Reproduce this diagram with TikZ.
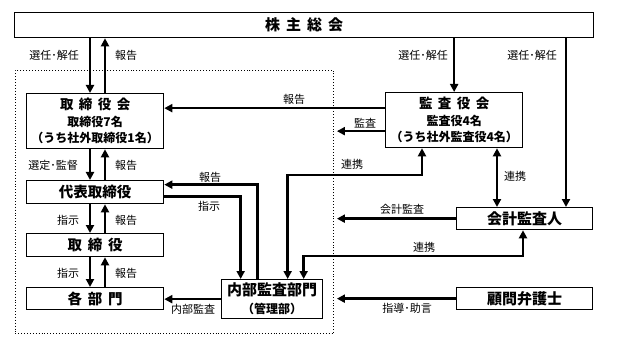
\documentclass[tikz,border=0pt]{standalone}
\usepackage{fontspec}
\newfontfamily\cjk{Noto Sans CJK JP}
\usetikzlibrary{arrows.meta}
\newcommand{\jsp}{\hspace{0.4em}}
\tikzset{
    box/.style={draw, line width=1.3pt, anchor=north west, inner sep=0pt, align=center, font=\cjk\bfseries},
    link/.style={line width=2.4pt, -{Triangle[length=8pt,width=8pt]}},
    both/.style={line width=2.4pt, {Triangle[length=8pt,width=8pt]}-{Triangle[length=8pt,width=8pt]}},
    lbl/.style={inner sep=0pt, font=\cjk\fontsize{11}{13}\selectfont},
}

\begin{document}
\begin{tikzpicture}[x=1pt, y=-1pt]
    \useasboundingbox (0,0) rectangle (617,347);
    % --- frame of the company ---
    \node[draw, dotted, line width=0.9pt, anchor=north west, inner sep=0pt,
        minimum width=318pt, minimum height=263pt] (frame) at (15,70) {};
    % --- boxes ---
    \node[box, minimum width=579pt, minimum height=25pt, font=\cjk\bfseries\fontsize{15}{17}\selectfont]
        (kabu) at (14,12) {株\jsp 主\jsp 総\jsp 会};
    \node[box, minimum width=137pt, minimum height=55pt, font=\cjk\bfseries\fontsize{12}{16.5}\selectfont]
        (torikai) at (26,93) {{\fontsize{13.5}{16.5}\selectfont 取\jsp 締\jsp 役\jsp 会}\\取締役7名\\（うち社外取締役1名）};
    \node[box, minimum width=137pt, minimum height=23pt, font=\cjk\bfseries\fontsize{14.5}{17}\selectfont]
        (daihyo) at (26,180) {代表取締役};
    \node[box, minimum width=137pt, minimum height=23pt, font=\cjk\bfseries\fontsize{14.5}{17}\selectfont]
        (torishimari) at (26,233) {取\jsp 締\jsp 役};
    \node[box, minimum width=137pt, minimum height=22pt, font=\cjk\bfseries\fontsize{14.5}{17}\selectfont]
        (kakubu) at (26,287) {各\jsp 部\jsp 門};
    \node[box, minimum width=101pt, minimum height=39pt, font=\cjk\bfseries\fontsize{15}{18}\selectfont]
        (naibu) at (221,279) {内部監査部門\\{\fontsize{12}{14}\selectfont （管理部）}};
    \node[box, minimum width=137pt, minimum height=55pt, font=\cjk\bfseries\fontsize{12}{16.5}\selectfont]
        (kansayaku) at (385,92) {{\fontsize{13.5}{16.5}\selectfont 監\jsp 査\jsp 役\jsp 会}\\監査役4名\\（うち社外監査役4名）};
    \node[box, minimum width=136pt, minimum height=22pt, font=\cjk\bfseries\fontsize{15}{17}\selectfont]
        (kaikei) at (456,207) {会計監査人};
    \node[box, minimum width=136pt, minimum height=22pt, font=\cjk\bfseries\fontsize{15}{17}\selectfont]
        (komon) at (456,287) {顧問弁護士};
    % --- routing points ---
    \coordinate (dn) at (90,0);
    \coordinate (up) at (105,0);
    \coordinate (kk) at (566,0);
    \coordinate (mid) at (497,0);
    \coordinate (j1) at (422,175);
    \coordinate (j2) at (523,256);
    \coordinate (rep) at ([yshift=12pt]kansayaku.west);
    \coordinate (kan) at ([yshift=-11pt]kansayaku.west);
    % --- vertical chain on the left ---
    \draw[link] (kabu.south -| dn) -- (torikai.north -| dn);
    \draw[link] (torikai.north -| up) -- (kabu.south -| up);
    \draw[link] (torikai.south -| dn) -- (daihyo.north -| dn);
    \draw[link] (daihyo.north -| up) -- (torikai.south -| up);
    \draw[link] (daihyo.south -| dn) -- (torishimari.north -| dn);
    \draw[link] (torishimari.north -| up) -- (daihyo.south -| up);
    \draw[link] (torishimari.south -| dn) -- (kakubu.north -| dn);
    \draw[link] (kakubu.north -| up) -- (torishimari.south -| up);
    % --- from the shareholders ---
    \draw[link] (kabu.south -| kansayaku.north) -- (kansayaku.north);
    \draw[link] (kabu.south -| kk) -- (kaikei.north -| kk);
    % --- audit board ---
    \draw[link] (rep) -- (rep -| torikai.east);
    \draw[link] (kan) -- ([xshift=3pt]frame.east |- kan);
    \draw[both] (kansayaku.south -| j1) -- (j1) -| ([xshift=15.5pt]naibu.north);
    \draw[both] (kansayaku.south -| mid) -- (kaikei.north -| mid);
    % --- accounting auditor ---
    \draw[link] (kaikei.west) -- ([xshift=3pt]frame.east |- kaikei.west);
    \draw[both] (kaikei.south -| j2) -- (j2) -| ([xshift=31.5pt]naibu.north);
    % --- internal audit ---
    \draw[link] ([xshift=-14.5pt]naibu.north) |- ([yshift=7.5pt]daihyo.east);
    \draw[link] ([yshift=-4.5pt]daihyo.east) -| ([xshift=-31.5pt]naibu.north);
    \draw[link] (naibu.west) -- (naibu.west -| kakubu.east);
    % --- lawyer ---
    \draw[link] (komon.west) -- ([xshift=3pt]frame.east |- komon.west);
    % --- labels ---
    \node[lbl] (l1) at (54,55) {選任･解任};
    \node[lbl] (l2) at (126,55) {報告};
    \node[lbl] (l3) at (53,165) {選定･監督};
    \node[lbl] (l4) at (126,165) {報告};
    \node[lbl] (l5) at (68,220) {指示};
    \node[lbl] (l6) at (126,220) {報告};
    \node[lbl] (l7) at (68,273) {指示};
    \node[lbl] (l8) at (126,273) {報告};
    \node[lbl] (l9) at (423,55) {選任･解任};
    \node[lbl] (l10) at (532,55) {選任･解任};
    \node[lbl] (l11) at (294,99) {報告};
    \node[lbl] (l12) at (365,123) {監査};
    \node[lbl] (l13) at (352,164) {連携};
    \node[lbl] (l14) at (515,176) {連携};
    \node[lbl] (l15) at (210,177) {報告};
    \node[lbl] (l16) at (209,206) {指示};
    \node[lbl] (l17) at (402,209) {会計監査};
    \node[lbl] (l18) at (424,247) {連携};
    \node[lbl] (l19) at (193,309) {内部監査};
    \node[lbl] (l20) at (407,308) {指導･助言};
\end{tikzpicture}
\end{document}
